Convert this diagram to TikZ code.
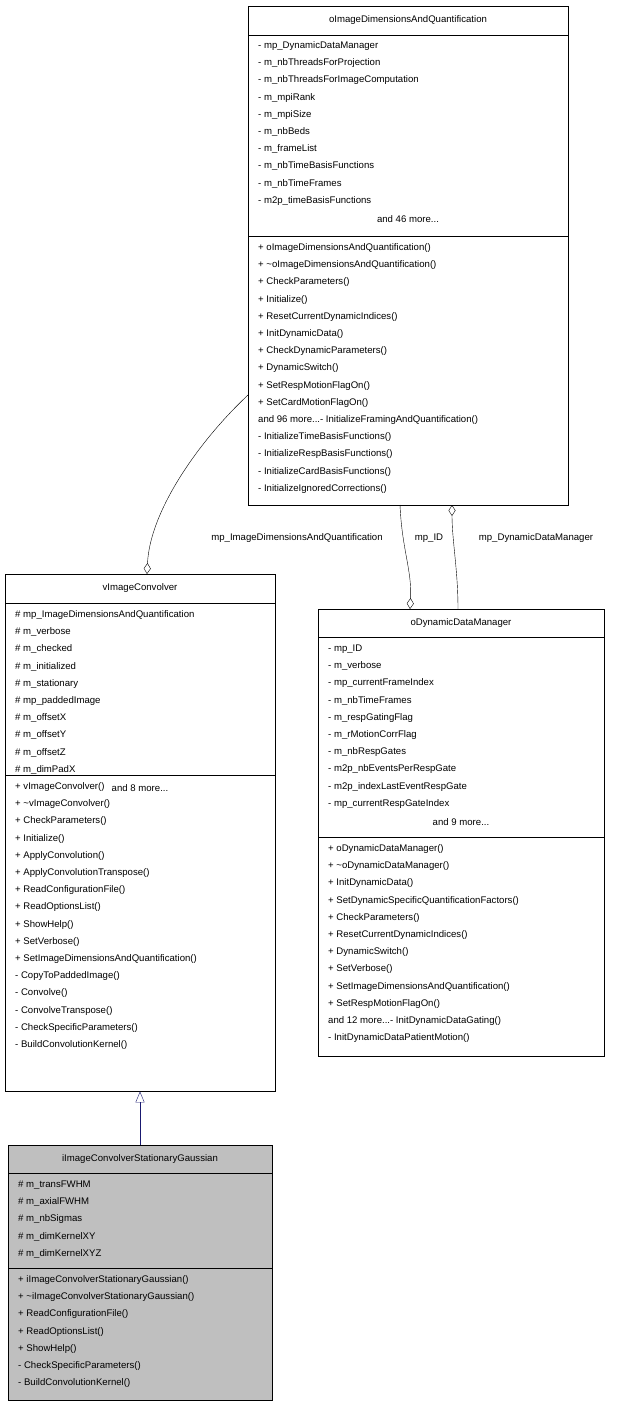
\documentclass[tikz,border=0pt]{standalone}
\usepackage{fontspec}
\setmainfont{Liberation Sans}
\usetikzlibrary{arrows.meta}

\begin{document}
\begin{tikzpicture}[
    x=1pt, y=-1pt,
    every node/.style={font=\fontsize{9.6}{11}\selectfont, inner sep=0pt},
    classbox/.style={draw=black, rectangle, anchor=north west},
    member/.style={anchor=west},
    more/.style={anchor=center},
    aggr/.style={-{Diamond[open,length=11pt,width=7pt]}, black},
    inherit/.style={-{Triangle[open,length=11pt,width=9pt]}, draw={rgb,255:red,25;green,25;blue,112}}
]
\useasboundingbox (0,0) rectangle (620,1408);
% Boxes
\node (dims) [classbox, minimum width=320pt, minimum height=499pt] at (248,6) {};
\node (conv) [classbox, minimum width=270pt, minimum height=517pt] at (5,574) {};
\node (ddm) [classbox, minimum width=286pt, minimum height=447pt] at (318,609) {};
\node (gauss) [classbox, fill={rgb,255:red,191;green,191;blue,191}, minimum width=264pt, minimum height=255pt] at (8,1145) {};

% Titles and separators
\node at (408,20) {oImageDimensionsAndQuantification};
\draw (248,35) -- (568,35); \draw (248,236) -- (568,236);
\node at (140,588) {vImageConvolver};
\draw (5,603) -- (275,603); \draw (5,775) -- (275,775);
\node at (461,623) {oDynamicDataManager};
\draw (318,637) -- (604,637); \draw (318,837) -- (604,837);
\node at (140,1159) {iImageConvolverStationaryGaussian};
\draw (8,1173) -- (272,1173); \draw (8,1268) -- (272,1268);

% Members of oImageDimensionsAndQuantification
\foreach \t [count=\i from 0] in {- mp\_DynamicDataManager, - m\_nbThreadsForProjection,
  - m\_nbThreadsForImageComputation, - m\_mpiRank, - m\_mpiSize, - m\_nbBeds, - m\_frameList,
  - m\_nbTimeBasisFunctions, - m\_nbTimeFrames, - m2p\_timeBasisFunctions}
  \node [member] at (258,46+17.2*\i) {\t};
\node [more] at (408,219) {and 46 more...};
\foreach \t [count=\i from 0] in {+ oImageDimensionsAndQuantification(),
  + \textasciitilde oImageDimensionsAndQuantification(), + CheckParameters(), + Initialize(),
  + ResetCurrentDynamicIndices(), + InitDynamicData(), + CheckDynamicParameters(),
  + DynamicSwitch(), + SetRespMotionFlagOn(), + SetCardMotionFlagOn()}
  \node [member] at (258,248+17.2*\i) {\t};
\node [member] at (258,420) {and 96 more...- InitializeFramingAndQuantification()};
\foreach \t [count=\i from 0] in {- InitializeTimeBasisFunctions(),
  - InitializeRespBasisFunctions(), - InitializeCardBasisFunctions(), - InitializeIgnoredCorrections()}
  \node [member] at (258,437.2+17.2*\i) {\t};

% Members of vImageConvolver
\foreach \t [count=\i from 0] in {\# mp\_ImageDimensionsAndQuantification, \# m\_verbose,
  \# m\_checked, \# m\_initialized, \# m\_stationary, \# mp\_paddedImage, \# m\_offsetX,
  \# m\_offsetY, \# m\_offsetZ, \# m\_dimPadX}
  \node [member] at (15,615+17.2*\i) {\t};
\node [more] at (140,788) {and 8 more...};
\foreach \t [count=\i from 0] in {+ vImageConvolver(), + \textasciitilde vImageConvolver(),
  + CheckParameters(), + Initialize(), + ApplyConvolution(), + ApplyConvolutionTranspose(),
  + ReadConfigurationFile(), + ReadOptionsList(), + ShowHelp(), + SetVerbose(),
  + SetImageDimensionsAndQuantification(), - CopyToPaddedImage(), - Convolve(),
  - ConvolveTranspose(), - CheckSpecificParameters(), - BuildConvolutionKernel()}
  \node [member] at (15,787+17.2*\i) {\t};

% Members of oDynamicDataManager
\foreach \t [count=\i from 0] in {- mp\_ID, - m\_verbose, - mp\_currentFrameIndex,
  - m\_nbTimeFrames, - m\_respGatingFlag, - m\_rMotionCorrFlag, - m\_nbRespGates,
  - m2p\_nbEventsPerRespGate, - m2p\_indexLastEventRespGate, - mp\_currentRespGateIndex}
  \node [member] at (328,649+17.2*\i) {\t};
\node [more] at (461,822) {and 9 more...};
\foreach \t [count=\i from 0] in {+ oDynamicDataManager(), + \textasciitilde oDynamicDataManager(),
  + InitDynamicData(), + SetDynamicSpecificQuantificationFactors(), + CheckParameters(),
  + ResetCurrentDynamicIndices(), + DynamicSwitch(), + SetVerbose(),
  + SetImageDimensionsAndQuantification(), + SetRespMotionFlagOn()}
  \node [member] at (328,849+17.2*\i) {\t};
\node [member] at (328,1021) {and 12 more...- InitDynamicDataGating()};
\node [member] at (328,1038.2) {- InitDynamicDataPatientMotion()};

% Members of iImageConvolverStationaryGaussian
\foreach \t [count=\i from 0] in {\# m\_transFWHM, \# m\_axialFWHM, \# m\_nbSigmas,
  \# m\_dimKernelXY, \# m\_dimKernelXYZ}
  \node [member] at (18,1185+17.2*\i) {\t};
\foreach \t [count=\i from 0] in {+ iImageConvolverStationaryGaussian(),
  + \textasciitilde iImageConvolverStationaryGaussian(), + ReadConfigurationFile(),
  + ReadOptionsList(), + ShowHelp(), - CheckSpecificParameters(), - BuildConvolutionKernel()}
  \node [member] at (18,1280+17.2*\i) {\t};

% Connectors
\coordinate (dimsL) at (248,395);
\coordinate (convT) at (147,574);
\coordinate (dimsB1) at (400,505);
\coordinate (ddmT1) at (410,609);
\coordinate (ddmT2) at (458,609);
\coordinate (dimsB2) at (452,505);
\draw [aggr] (dimsL) .. controls (200,440) and (150,510) .. (convT);
\draw [aggr] (dimsB1) .. controls (402,550) and (412,570) .. (ddmT1);
\draw [aggr] (ddmT2) .. controls (458,570) and (452,540) .. (dimsB2);
\node at (297,538) [anchor=center] {mp\_ImageDimensionsAndQuantification};
\node at (429,538) {mp\_ID};
\node at (536,538) {mp\_DynamicDataManager};
\coordinate (gaussT) at (140,1145);
\draw [inherit] (gaussT) -- (gaussT |- conv.south);
\end{tikzpicture}
\end{document}
